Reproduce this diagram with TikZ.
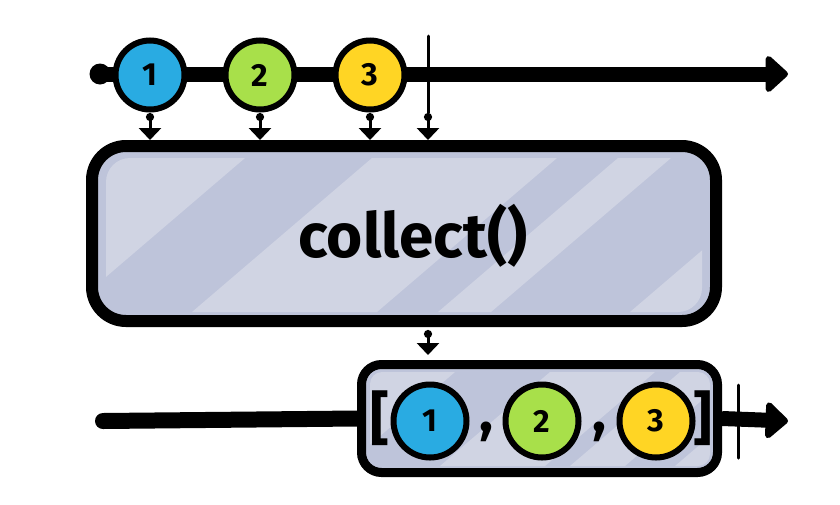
\documentclass[tikz,border=0pt]{standalone}
\usepackage{fontspec}
\setmainfont{Fira Sans}
\usetikzlibrary{arrows.meta,positioning,calc}
\definecolor{marbleBlue}{HTML}{29ABE2}
\definecolor{marbleGreen}{HTML}{A8E04A}
\definecolor{marbleYellow}{HTML}{FFD524}
\definecolor{opFill}{HTML}{BEC4DA}
\definecolor{opStripe}{HTML}{D0D4E3}
\tikzset{
  % stream lines and the marbles riding on them
  timeline/.style={
    line width=15pt,
    draw=black,
    line cap=round,
    -{Triangle[length=24pt,width=42pt,round]}
  },
  streamline/.style={
    line width=16pt,
    draw=black,
    line cap=round
  },
  marble/.style={
    circle,
    draw=black,
    fill=#1,
    line width=6pt,
    minimum size=69pt,
    inner sep=0pt,
    font=\fontsize{32}{32}\selectfont\bfseries
  },
  marble/.default=marbleBlue,
  bigmarble/.style={
    marble=#1,
    minimum size=73pt
  },
  % operator boxes
  opbox/.style={
    rounded corners=#1,
    draw=black,
    fill=opFill,
    inner sep=0pt
  },
  stripe/.style={
    fill=opStripe
  },
  oplabel/.style={
    font=\fontsize{62}{62}\selectfont\bfseries
  },
  glyph/.style={
    inner sep=0pt,
    font=\fontsize{58}{58}\selectfont\bfseries
  },
  tickmark/.style={
    line width=3pt,
    draw=black,
    line cap=round
  },
  drop/.style={
    line width=3pt,
    draw=black,
    {Circle[length=8pt,width=8pt]}-{Triangle[length=12pt,width=22pt]}
  }
}

\begin{document}
\begin{tikzpicture}[x=1pt,y=-1pt]
\useasboundingbox (0,0) rectangle (840,504);

% source stream
\coordinate (srcStart) at (100,74);
\coordinate (srcEnd) at (788,74);
\coordinate (tickTop) at (428,36);
\coordinate (tickBot) at (428,113);

\draw[timeline] (srcStart) -- (srcEnd);
\fill (srcStart) circle (10.5);
\draw[tickmark] (tickTop) -- (tickBot);

\node[marble=marbleBlue] (m1) at (150,75) {1};
\node[marble=marbleGreen] (m2) at (260,75) {2};
\node[marble=marbleYellow] (m3) at (370,75) {3};

% collect operator
\node[opbox=34pt, line width=12pt, minimum width=624pt, minimum height=175pt] (op) at (404,233.5) {};
\begin{scope}
  \clip[rounded corners=24pt] (106,158) rectangle (702,312);
  \foreach \a/\b in {0/245, 372/557, 618/671, 810/1000}
    \fill[stripe] (\a,158) -- (\b,158) -- ({\b-180},312) -- ({\a-180},312) -- cycle;
\end{scope}
\node[oplabel] (opText) at (413,236) {collect()};

\foreach \m in {m1,m2,m3}
  \draw[drop] (\m |- tickBot) -- (\m |- op.north);
\draw[drop] (tickBot) -- (tickBot |- op.north);

% result stream
\coordinate (resStart) at (103,421);
\coordinate (resEnd) at (788,421);
\coordinate (tick2Top) at (738,385);
\coordinate (tick2Bot) at (738,458);

\node[opbox=20pt, line width=9pt, minimum width=356pt, minimum height=108pt] (res) at (539.5,418.5) {};
\draw[drop, shorten <=3pt, shorten >=5pt] (tickBot |- op.south) -- (tickBot |- res.north);

\draw[streamline] (resStart) -- (res.west);
\draw[timeline, line cap=butt] (res.east) -- (resEnd);
\draw[tickmark] (tick2Top) -- (tick2Bot);

\begin{scope}
  \clip[rounded corners=12pt] (370,372) rectangle (710,466);
  \foreach \a/\b in {0/455, 550/655, 680/735, 785/900}
    \fill[stripe] (\a,372) -- (\b,372) -- ({\b-110},466) -- ({\a-110},466) -- cycle;
\end{scope}

\node[glyph] (lb) at (380,418) {[};
\node[bigmarble=marbleBlue] (r1) at (430,421) {1};
\node[glyph] (cm1) at (486,432) {,};
\node[bigmarble=marbleGreen] (r2) at (542,421) {2};
\node[glyph] (cm2) at (599,432) {,};
\node[bigmarble=marbleYellow] (r3) at (656,421) {3};
\node[glyph] (rb) at (703,418) {]};

\end{tikzpicture}
\end{document}
